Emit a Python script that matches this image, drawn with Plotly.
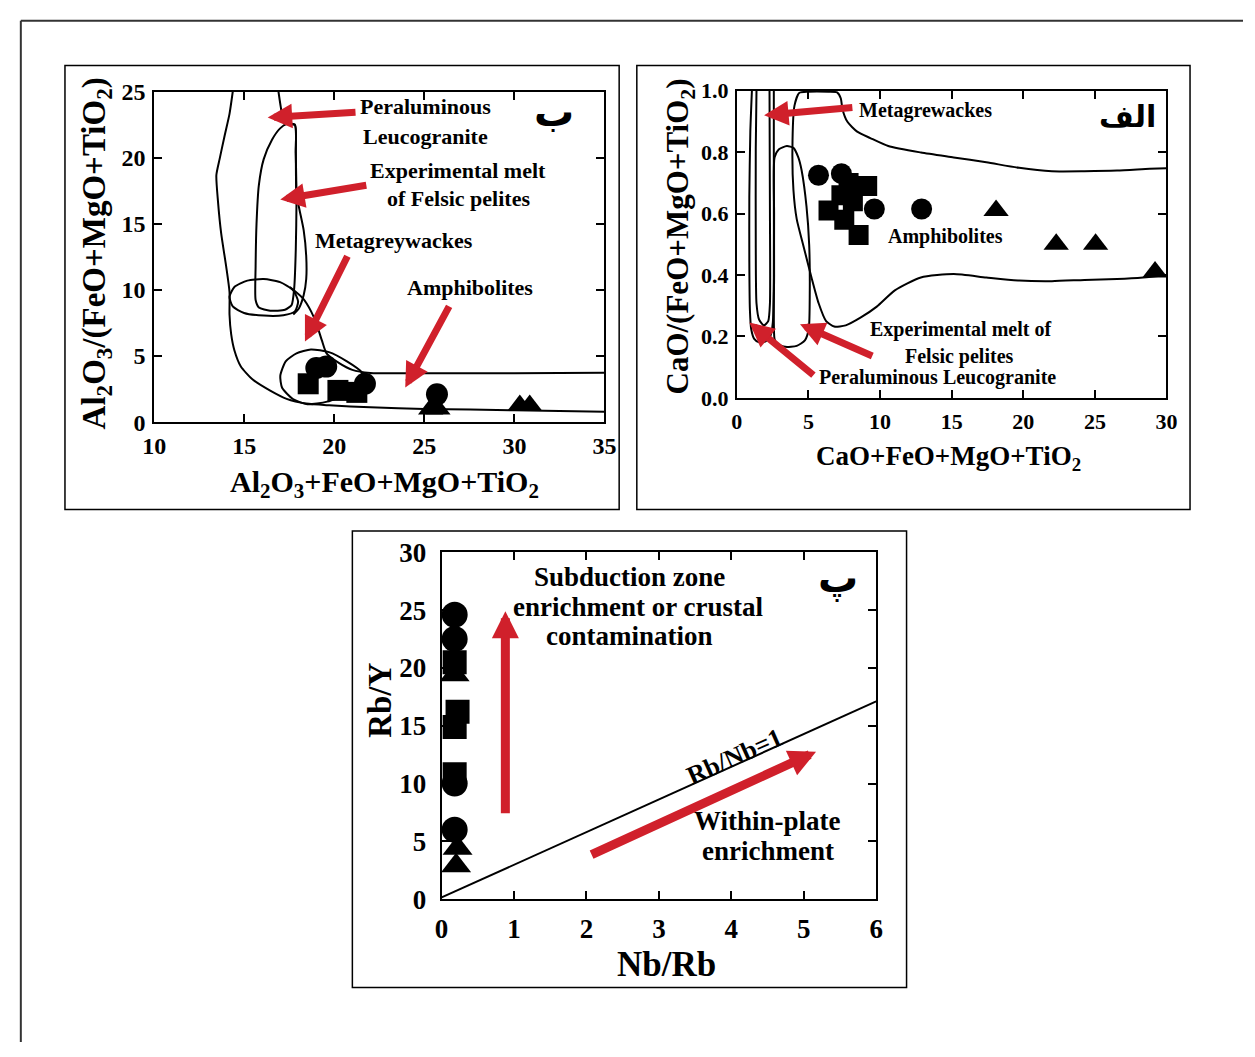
import plotly.graph_objects as go

W, H = 1255, 1057
SERIF = "Liberation Serif"
ARAB = "DejaVu Sans"
RED = "#d0202b"

# ---------------- Panel "ب": Al2O3/(FeO+MgO+TiO2) vs Al2O3+FeO+MgO+TiO2 ----------------
b_circle_x = [19.0, 19.55, 21.7, 25.7]
b_circle_y = [4.1, 4.2, 2.9, 2.1]
b_square_x = [18.55, 20.2, 21.25]
b_square_y = [2.9, 2.4, 2.25]
b_tri_x = [25.35, 25.75, 30.3, 30.85]
b_tri_y = [1.0, 1.0, 1.25, 1.25]

# field outlines
b_leuco_x = [14.36, 14.18, 13.90, 13.63, 13.45, 13.54, 13.72, 13.99, 14.18, 14.18, 14.27, 14.45,
             14.81, 15.45, 16.44, 17.35, 18.44, 19.71, 22.0, 25.0, 30.0, 35.0]
b_leuco_y = [25.0, 23.33, 21.62, 19.9, 18.68, 16.71, 14.26, 11.82, 9.85, 8.14, 6.67, 5.44,
             4.21, 3.24, 2.38, 1.76, 1.40, 1.27, 1.12, 1.0, 0.9, 0.78]
b_leuco_r_x = [16.90, 17.03, 17.21, 17.35, 17.81, 17.86, 17.90, 18.08, 18.30, 18.44, 18.44, 18.30, 18.04, 17.72]
b_leuco_r_y = [25.0, 23.82, 22.6, 22.55, 22.48, 20.39, 17.21, 15.98, 14.51, 12.55, 10.83, 9.61, 8.62, 8.14]
b_melt_x = [16.99, 17.35, 17.81, 17.86, 17.90, 17.86, 17.77, 17.63, 17.26, 16.44, 15.81, 15.63,
            15.63, 15.68, 15.81, 16.08, 16.54, 16.99]
b_melt_y = [22.23, 22.55, 22.53, 20.39, 16.71, 13.04, 10.1, 8.87, 8.5, 8.43, 8.68, 9.24,
            11.82, 15.0, 17.94, 19.9, 21.37, 22.23]
b_oval_x = [14.18, 14.45, 15.17, 16.08, 16.99, 17.72, 17.99, 17.81, 17.17, 16.08, 14.99, 14.36, 14.18]
b_oval_y = [9.49, 10.22, 10.71, 10.83, 10.59, 9.98, 9.12, 8.38, 8.09, 8.06, 8.26, 8.75, 9.49]
b_amph_x = [17.53, 18.26, 18.71, 19.02, 19.31, 19.57, 20.27, 21.0, 22.0, 25.0, 30.0, 35.0]
b_amph_y = [10.22, 9.36, 8.38, 7.40, 6.18, 5.20, 4.46, 3.95, 3.72, 3.70, 3.70, 3.73]
b_mgw_x = [17.0, 17.3, 17.9, 18.7, 19.7, 20.7, 21.5, 21.6, 20.8, 19.6, 18.5, 17.7, 17.1, 17.0]
b_mgw_y = [3.5, 4.6, 5.2, 5.5, 5.3, 4.6, 3.8, 3.0, 2.2, 1.55, 1.35, 1.75, 2.6, 3.5]

# ---------------- Panel "الف": CaO/(FeO+MgO+TiO2) vs CaO+FeO+MgO+TiO2 ----------------
a_circle_x = [5.7, 7.3, 9.6, 12.9]
a_circle_y = [0.725, 0.73, 0.615, 0.615]
a_square_x = [6.4, 7.5, 7.8, 8.1, 9.1, 8.5, 7.3]
a_square_y = [0.61, 0.58, 0.70, 0.64, 0.69, 0.53, 0.66]
a_tri_x = [18.1, 22.3, 25.05, 29.2]
a_tri_y = [0.61, 0.50, 0.50, 0.41]

a_outer_x = [1.05, 0.94, 0.87, 0.87, 0.91, 1.00, 1.21, 1.55, 2.01, 2.35, 2.51, 2.58, 2.58, 2.58]
a_outer_y = [1.0, 0.867, 0.656, 0.445, 0.287, 0.224, 0.192, 0.181, 0.184, 0.203, 0.245, 0.392, 0.709, 1.0]
a_inner_x = [1.37, 1.32, 1.32, 1.37, 1.55, 1.89, 2.19, 2.31, 2.31, 2.28]
a_inner_y = [1.0, 0.814, 0.498, 0.308, 0.255, 0.236, 0.25, 0.308, 0.603, 1.0]
a_mid_x = [2.63, 2.92, 3.49, 3.95, 4.29, 4.52, 4.86, 5.05, 5.09, 5.02, 4.75, 4.18, 3.38, 2.81, 2.63, 2.6, 2.6, 2.63]
a_mid_y = [0.783, 0.809, 0.82, 0.814, 0.783, 0.741, 0.624, 0.498, 0.340, 0.224, 0.187, 0.169, 0.166,
           0.176, 0.192, 0.4, 0.6, 0.783]
a_amph_x = [30.0, 28.37, 26.55, 24.27, 22.0, 19.71, 17.42, 15.14, 12.85, 11.03, 9.77, 8.63, 7.60, 6.80,
            6.23, 5.71, 5.21, 4.63, 4.18, 3.95, 3.88, 4.02, 4.35, 5.0, 6.4, 7.0, 7.26, 7.37, 7.72, 8.4,
            9.32, 10.57, 12.85, 15.14, 17.42, 19.71, 22.0, 24.27, 26.55, 28.83, 30.0]
a_amph_y = [0.40, 0.392, 0.387, 0.384, 0.380, 0.382, 0.392, 0.403, 0.392, 0.350, 0.297, 0.261, 0.236, 0.232,
            0.25, 0.308, 0.392, 0.498, 0.582, 0.677, 0.814, 0.951, 0.993, 0.997, 0.997, 0.995, 0.975, 0.941,
            0.899, 0.867, 0.846, 0.82, 0.799, 0.783, 0.767, 0.749, 0.738, 0.738, 0.740, 0.746, 0.748]

# ---------------- Panel "پ": Rb/Y vs Nb/Rb ----------------
c_circle_x = [0.18, 0.18, 0.18, 0.18]
c_circle_y = [24.6, 22.5, 10.0, 6.0]
c_square_x = [0.18, 0.22, 0.18, 0.18]
c_square_y = [20.5, 16.2, 14.9, 10.8]
c_tri_x = [0.18, 0.22, 0.2]
c_tri_y = [19.4, 4.4, 2.9]
c_ref_x = [0.0, 6.0]
c_ref_y = [0.15, 17.1]


def px(v):
    return v / W


def py(v):
    return 1 - v / H


fig = go.Figure()


def add_line(xs, ys, xa, ya):
    fig.add_trace(go.Scatter(x=xs, y=ys, xaxis=xa, yaxis=ya, mode="lines",
                             line=dict(color="black", width=2, shape="spline", smoothing=0.6),
                             hoverinfo="skip", showlegend=False))


def add_pts(xs, ys, sym, size, xa, ya):
    fig.add_trace(go.Scatter(x=xs, y=ys, xaxis=xa, yaxis=ya, mode="markers",
                             marker=dict(symbol=sym, size=size, color="black", line=dict(width=0)),
                             showlegend=False))


for xs, ys in [(b_leuco_x, b_leuco_y), (b_leuco_r_x, b_leuco_r_y), (b_melt_x, b_melt_y),
               (b_oval_x, b_oval_y), (b_amph_x, b_amph_y), (b_mgw_x, b_mgw_y)]:
    add_line(xs, ys, "x", "y")
add_pts(b_square_x, b_square_y, "square", 21, "x", "y")
add_pts(b_circle_x, b_circle_y, "circle", 22, "x", "y")
add_pts(b_tri_x, b_tri_y, "triangle-up", 22, "x", "y")

for xs, ys in [(a_outer_x, a_outer_y), (a_inner_x, a_inner_y), (a_mid_x, a_mid_y), (a_amph_x, a_amph_y)]:
    add_line(xs, ys, "x2", "y2")
add_pts(a_circle_x, a_circle_y, "circle", 21, "x2", "y2")
add_pts(a_square_x, a_square_y, "square", 20, "x2", "y2")
add_pts(a_tri_x, a_tri_y, "triangle-up", 22, "x2", "y2")

fig.add_trace(go.Scatter(x=c_ref_x, y=c_ref_y, xaxis="x3", yaxis="y3", mode="lines",
                         line=dict(color="black", width=2), showlegend=False))
add_pts(c_square_x, c_square_y, "square", 24, "x3", "y3")
add_pts(c_circle_x, c_circle_y, "circle", 26, "x3", "y3")
add_pts(c_tri_x, c_tri_y, "triangle-up", 26, "x3", "y3")

bold = dict(family=SERIF, color="black", weight="bold")


def axis(domain, rng, dtick, anchor, fsize, standoff, fmt=None):
    d = dict(domain=domain, range=rng, dtick=dtick, tick0=0, anchor=anchor,
             showline=True, linecolor="black", linewidth=2, mirror="ticks",
             ticks="inside", ticklen=8, tickwidth=2, tickcolor="black",
             showgrid=False, zeroline=False, fixedrange=True,
             tickfont=dict(size=fsize, **bold), ticklabelstandoff=standoff)
    if fmt:
        d["tickformat"] = fmt
    return d


fig.update_layout(
    width=W, height=H, margin=dict(l=0, r=0, t=0, b=0),
    paper_bgcolor="white", plot_bgcolor="white", showlegend=False,
    xaxis=axis([px(145), px(604)], [10, 35], 5, "y", 24, 1),
    yaxis=axis([py(419), py(79)], [0, 25], 5, "x", 24, 2),
    xaxis2=axis([px(739), px(1177)], [0, 30], 5, "y2", 22, 3),
    yaxis2=axis([py(394), py(78)], [0, 1], 0.2, "x2", 22, 2, ".1f"),
    xaxis3=axis([px(438), px(881)], [0, 6], 1, "y3", 27, 4),
    yaxis3=axis([py(910), py(553)], [0, 30], 5, "x3", 27, 8),
)

shapes = []
# panel frames
for x0, y0, x1, y1 in [(54, 52, 619, 509), (637, 52, 1201, 509), (347, 531, 912, 1001)]:
    shapes.append(dict(type="rect", xref="paper", yref="paper", x0=px(x0), x1=px(x1),
                       y0=py(y1), y1=py(y0), line=dict(color="black", width=1.5)))
# page border (top and left)
shapes.append(dict(type="line", xref="paper", yref="paper", x0=px(9), x1=1, y0=py(6), y1=py(6),
                   line=dict(color="#333333", width=2)))
shapes.append(dict(type="line", xref="paper", yref="paper", x0=px(9), x1=px(9), y0=0, y1=py(6),
                   line=dict(color="#333333", width=2)))
fig.update_layout(shapes=shapes)

ann = []


def txt(x, y, s, size, xr, yr, fam=SERIF, angle=0):
    ann.append(dict(x=x, y=y, xref=xr, yref=yr, text=s, showarrow=False, textangle=angle,
                    font=dict(size=size, family=fam, color="black", weight="bold"),
                    xanchor="center", yanchor="middle"))


def arrow(tail, tip, xr, yr, w=7, hs=0.7):
    ann.append(dict(x=tip[0], y=tip[1], ax=tail[0], ay=tail[1], xref=xr, yref=yr,
                    axref=xr, ayref=yr, text="", showarrow=True, arrowhead=2,
                    arrowsize=hs, arrowwidth=w, arrowcolor=RED, standoff=0))


# panel ب labels and arrows
txt(25.09, 23.9, "Peraluminous", 22, "x", "y")
txt(25.09, 21.6, "Leucogranite", 22, "x", "y")
txt(26.88, 19.04, "Experimental melt", 22, "x", "y")
txt(26.88, 16.9, "of Felsic pelites", 22, "x", "y")
txt(23.29, 13.75, "Metagreywackes", 22, "x", "y")
txt(27.54, 10.22, "Amphibolites", 22, "x", "y")
txt(32.2, 23.5, "ب", 40, "x", "y", fam=ARAB)
arrow((21.26, 23.46), (16.3, 23.05), "x", "y")
arrow((21.86, 17.94), (17.0, 16.84), "x", "y")
arrow((20.77, 12.67), (18.37, 6.1), "x", "y")
arrow((26.42, 8.87), (23.94, 2.62), "x", "y")

# panel الف labels and arrows
txt(13.15, 0.937, "Metagrewackes", 20, "x2", "y2")
txt(27.3, 0.915, "الف", 30, "x2", "y2", fam=ARAB)
txt(14.6, 0.525, "Amphibolites", 20, "x2", "y2")
txt(15.6, 0.222, "Experimental melt of", 20, "x2", "y2")
txt(15.55, 0.133, "Felsic pelites", 20, "x2", "y2")
txt(14.0, 0.066, "Peraluminous Leucogranite", 20, "x2", "y2")
arrow((8.17, 0.946), (1.9, 0.92), "x2", "y2")
arrow((5.45, 0.07), (0.87, 0.245), "x2", "y2")
arrow((9.56, 0.134), (4.41, 0.24), "x2", "y2")

# panel پ labels and arrows
txt(2.60, 27.9, "Subduction zone", 27, "x3", "y3")
txt(2.71, 25.3, "enrichment or crustal", 27, "x3", "y3")
txt(2.60, 22.8, "contamination", 27, "x3", "y3")
txt(4.5, 6.72, "Within-plate", 27, "x3", "y3")
txt(4.5, 4.2, "enrichment", 27, "x3", "y3")
txt(4.05, 12.3, "Rb/Nb=1", 26, "x3", "y3", angle=-24)
txt(5.47, 27.7, "پ", 40, "x3", "y3", fam=ARAB)
arrow((0.88, 7.3), (0.88, 24.9), "x3", "y3", w=9, hs=0.6)
arrow((2.05, 3.8), (5.17, 12.75), "x3", "y3", w=9, hs=0.6)

# axis titles
txt(px(380), py(483), "Al<sub>2</sub>O<sub>3</sub>+FeO+MgO+TiO<sub>2</sub>", 30, "paper", "paper")
txt(px(86), py(245), "Al<sub>2</sub>O<sub>3</sub>/(FeO+MgO+TiO<sub>2</sub>)", 33, "paper", "paper", angle=-90)
txt(px(955), py(456), "CaO+FeO+MgO+TiO<sub>2</sub>", 27, "paper", "paper")
txt(px(681), py(228), "CaO/(FeO+MgO+TiO<sub>2</sub>)", 31, "paper", "paper", angle=-90)
txt(px(667), py(977), "Nb/Rb", 35, "paper", "paper")
txt(px(375), py(705), "Rb/Y", 33, "paper", "paper", angle=-90)

fig.update_layout(annotations=ann)
fig.write_html("out.html")
